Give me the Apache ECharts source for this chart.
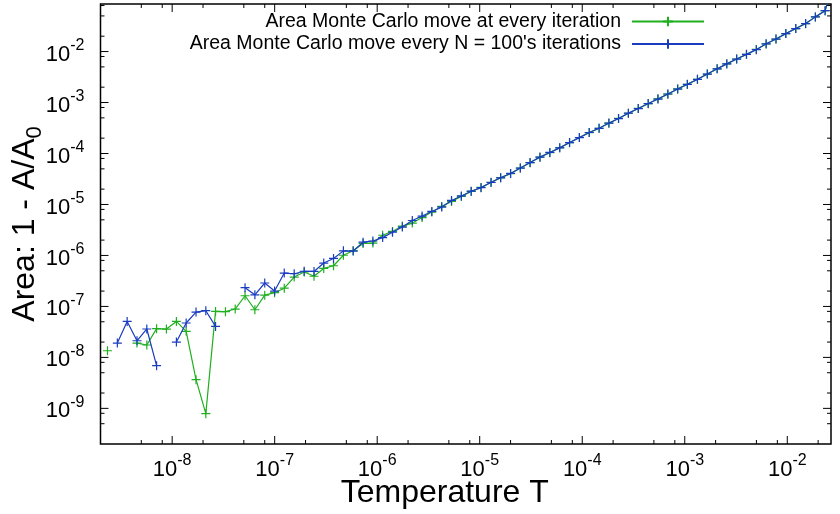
<!DOCTYPE html>
<html>
<head>
<meta charset="utf-8">
<script src="https://cdn.jsdelivr.net/npm/echarts@6/dist/echarts.min.js"></script>
<style>html,body{margin:0;padding:0;background:#fff}#c{width:840px;height:514px}</style>
</head>
<body>
<div id="c"></div>
<script>
// ---- data ----
const temperature = [2.34e-9, 2.92e-9, 3.64e-9, 4.54e-9, 5.66e-9, 7.05e-9, 8.79e-9, 1.10e-8, 1.37e-8, 1.71e-8,
  2.13e-8, 2.65e-8, 3.31e-8, 4.12e-8, 5.14e-8, 6.41e-8, 8.00e-8, 9.98e-8, 1.24e-7, 1.55e-7,
  1.94e-7, 2.42e-7, 3.01e-7, 3.75e-7, 4.68e-7, 5.83e-7, 7.28e-7, 9.08e-7, 1.13e-6, 1.41e-6,
  1.76e-6, 2.20e-6, 2.74e-6, 3.41e-6, 4.26e-6, 5.31e-6, 6.62e-6, 8.26e-6, 1.03e-5, 1.29e-5,
  1.60e-5, 2.00e-5, 2.49e-5, 3.10e-5, 3.87e-5, 4.83e-5, 6.03e-5, 7.52e-5, 9.38e-5, 1.17e-4,
  1.46e-4, 1.82e-4, 2.26e-4, 2.82e-4, 3.52e-4, 4.40e-4, 5.48e-4, 6.84e-4, 8.53e-4, 1.06e-3,
  1.33e-3, 1.66e-3, 2.07e-3, 2.57e-3, 3.21e-3, 4.00e-3, 4.99e-3, 6.22e-3, 7.76e-3, 9.68e-3,
  1.21e-2, 1.51e-2, 1.88e-2, 2.34e-2, 2.92e-2];

const areaEveryIteration = [1.35e-8, null, null, 1.91e-8, 1.75e-8, 3.66e-8, 3.60e-8, 5.08e-8, 3.24e-8, 3.66e-9,
  7.87e-10, 7.98e-8, 7.90e-8, 8.89e-8, 1.62e-7, 8.61e-8, 1.66e-7, 1.86e-7, 2.28e-7, 3.77e-7,
  4.73e-7, 3.91e-7, 5.56e-7, 6.28e-7, 1.01e-6, 1.24e-6, 1.72e-6, 1.75e-6, 2.49e-6, 2.96e-6,
  3.77e-6, 4.32e-6, 5.53e-6, 7.10e-6, 9.14e-6, 1.15e-5, 1.44e-5, 1.80e-5, 2.16e-5, 2.70e-5,
  3.36e-5, 4.03e-5, 5.20e-5, 6.60e-5, 8.52e-5, 1.04e-4, 1.30e-4, 1.63e-4, 2.06e-4, 2.57e-4,
  3.13e-4, 3.93e-4, 4.87e-4, 6.16e-4, 7.65e-4, 9.50e-4, 1.18e-3, 1.46e-3, 1.85e-3, 2.27e-3,
  2.86e-3, 3.61e-3, 4.59e-3, 5.73e-3, 7.15e-3, 8.80e-3, 1.10e-2, 1.41e-2, 1.76e-2, 2.25e-2,
  2.83e-2, 3.53e-2, 4.79e-2, 6.33e-2, 0.3];

const areaEvery100 = [null, 1.91e-8, 5.08e-8, 2.12e-8, 3.61e-8, 6.87e-9, null, 2.00e-8, 4.73e-8, 7.76e-8,
  8.24e-8, 4.06e-8, null, null, 2.33e-7, 1.69e-7, 2.88e-7, 2.00e-7, 4.52e-7, 4.38e-7,
  4.90e-7, 4.85e-7, 7.10e-7, 8.73e-7, 1.23e-6, 1.22e-6, 1.82e-6, 1.92e-6, 2.24e-6, 2.85e-6,
  3.61e-6, 4.85e-6, 5.93e-6, 7.29e-6, 8.89e-6, 1.20e-5, 1.47e-5, 1.82e-5, 2.14e-5, 2.72e-5,
  3.34e-5, 4.06e-5, 5.18e-5, 6.64e-5, 8.49e-5, 1.05e-4, 1.29e-4, 1.64e-4, 2.05e-4, 2.58e-4,
  3.12e-4, 3.95e-4, 4.85e-4, 6.19e-4, 7.62e-4, 9.55e-4, 1.17e-3, 1.47e-3, 1.84e-3, 2.28e-3,
  2.85e-3, 3.62e-3, 4.58e-3, 5.74e-3, 7.13e-3, 8.81e-3, 1.09e-2, 1.42e-2, 1.76e-2, 2.25e-2,
  2.83e-2, 3.54e-2, 4.79e-2, 6.34e-2, 0.3];

const seriesNames = ['Area Monte Carlo move at every iteration', "Area Monte Carlo move every N = 100's iterations"];

const xRange = [2.0e-9, 2.67e-2];
const yRange = [2.0e-10, 8.57e-2];

const xMajorTicks = [1e-8, 1e-7, 1e-6, 1e-5, 1e-4, 1e-3, 1e-2];
const xMinorTicks = [5e-9, 8e-9, 2e-8, 5e-8, 8e-8, 2e-7, 5e-7, 8e-7, 2e-6, 5e-6, 8e-6,
  2e-5, 5e-5, 8e-5, 2e-4, 5e-4, 8e-4, 2e-3, 5e-3, 8e-3, 2e-2];
const yMajorTicks = [1e-9, 1e-8, 1e-7, 1e-6, 1e-5, 1e-4, 1e-3, 1e-2];
const yMinorTicks = [5e-10, 8e-10, 2e-9, 5e-9, 8e-9, 2e-8, 5e-8, 8e-8, 2e-7, 5e-7, 8e-7,
  2e-6, 5e-6, 8e-6, 2e-5, 5e-5, 8e-5, 2e-4, 5e-4, 8e-4, 2e-3, 5e-3, 8e-3, 2e-2, 5e-2, 8e-2];

// ---- chart ----
const FONT = '"Liberation Sans", Arial, Helvetica, sans-serif';
const GREEN = '#1faf1f';
const BLUE = '#1a3cbf';
const CROSS = 'path://M0,5L10,5M5,0L5,10';

function powLabel(v) {
  const e = Math.log10(v);
  const r = Math.round(e);
  if (Math.abs(e - r) > 1e-6) return '';
  return '{b|10}{s|' + r + '}';
}
const labelRich = {
  b: { fontSize: 22, fontFamily: FONT, color: '#000', verticalAlign: 'bottom', lineHeight: 28 },
  s: { fontSize: 16, fontFamily: FONT, color: '#000', verticalAlign: 'top', lineHeight: 15 }
};

const tickData = []
  .concat(xMajorTicks.map(t => [t, yRange[0], 0]))
  .concat(xMinorTicks.map(t => [t, yRange[0], 1]))
  .concat(yMajorTicks.map(t => [xRange[0], t, 2]))
  .concat(yMinorTicks.map(t => [xRange[0], t, 3]));

function pairs(arr) {
  return arr.map((v, i) => [temperature[i], v == null ? '-' : v]);
}

const chart = echarts.init(document.getElementById('c'), null, { renderer: 'canvas' });
chart.setOption({
  animation: false,
  backgroundColor: '#fff',
  grid: {
    left: 100.5, right: 9, top: 4, bottom: 70,
    containLabel: false, outerBoundsMode: 'none',
    show: true, borderColor: '#000', borderWidth: 1.5, backgroundColor: 'transparent'
  },
  legend: {
    data: seriesNames,
    orient: 'vertical', right: 135, top: 11.5, align: 'right', padding: 0,
    itemWidth: 72, itemHeight: 12, itemGap: 2.5, selectedMode: false,
    textStyle: { fontSize: 19.5, fontFamily: FONT, color: '#000', lineHeight: 20, padding: [0, 6, 0, 0] }
  },
  xAxis: {
    type: 'log', logBase: 10, min: xRange[0], max: xRange[1],
    name: 'Temperature T', nameLocation: 'middle', nameGap: 31, nameMoveOverlap: false,
    nameTextStyle: { fontSize: 32, fontFamily: FONT, color: '#000', lineHeight: 36, padding: [0, 42, 0, 0] },
    axisLine: { show: false }, axisTick: { show: false }, splitLine: { show: false }, minorTick: { show: false },
    axisLabel: { show: true, margin: 9, formatter: powLabel, rich: labelRich, showMinLabel: false, showMaxLabel: false }
  },
  yAxis: {
    type: 'log', logBase: 10, min: yRange[0], max: yRange[1],
    name: '{m|Area: 1 - A/A}{sub|0}', nameLocation: 'middle', nameGap: 55, nameRotate: 90, nameMoveOverlap: false,
    nameTextStyle: {
      fontSize: 32, fontFamily: FONT, color: '#000',
      rich: {
        m: { fontSize: 32, fontFamily: FONT, color: '#000', verticalAlign: 'top', lineHeight: 36 },
        sub: { fontSize: 22, fontFamily: FONT, color: '#000', verticalAlign: 'bottom', lineHeight: 22 }
      }
    },
    axisLine: { show: false }, axisTick: { show: false }, splitLine: { show: false }, minorTick: { show: false },
    axisLabel: { show: true, margin: 16, formatter: powLabel, rich: labelRich, showMinLabel: false, showMaxLabel: false }
  },
  series: [
    {
      name: seriesNames[0], type: 'line', data: pairs(areaEveryIteration),
      symbol: CROSS, symbolSize: 9, showSymbol: true, showAllSymbol: true, connectNulls: false,
      lineStyle: { color: GREEN, width: 1.2 },
      itemStyle: { color: GREEN, borderColor: GREEN, borderWidth: 1.2 },
      emphasis: { disabled: true }, silent: true, clip: true, z: 3
    },
    {
      name: seriesNames[1], type: 'line', data: pairs(areaEvery100),
      symbol: CROSS, symbolSize: 9, showSymbol: true, showAllSymbol: true, connectNulls: false,
      lineStyle: { color: BLUE, width: 1.2 },
      itemStyle: { color: BLUE, borderColor: BLUE, borderWidth: 1.2 },
      emphasis: { disabled: true }, silent: true, clip: true, z: 4
    },
    {
      name: 'ticks', type: 'custom', data: tickData, encode: { x: 0, y: 1 },
      silent: true, clip: false, z: 5,
      renderItem: function (params, api) {
        const v0 = api.value(0), v1 = api.value(1), code = api.value(2);
        const len = (code === 0 || code === 2) ? 8 : 4;
        const st = { stroke: '#000', lineWidth: 1 };
        let a, b;
        if (code < 2) {
          a = api.coord([v0, yRange[0]]);
          b = api.coord([v0, yRange[1]]);
          return { type: 'group', children: [
            { type: 'line', shape: { x1: a[0], y1: a[1], x2: a[0], y2: a[1] - len }, style: st },
            { type: 'line', shape: { x1: b[0], y1: b[1], x2: b[0], y2: b[1] + len }, style: st }
          ] };
        } else {
          a = api.coord([xRange[0], v1]);
          b = api.coord([xRange[1], v1]);
          return { type: 'group', children: [
            { type: 'line', shape: { x1: a[0], y1: a[1], x2: a[0] + len, y2: a[1] }, style: st },
            { type: 'line', shape: { x1: b[0], y1: b[1], x2: b[0] - len, y2: b[1] }, style: st }
          ] };
        }
      }
    }
  ]
});
</script>
</body>
</html>
